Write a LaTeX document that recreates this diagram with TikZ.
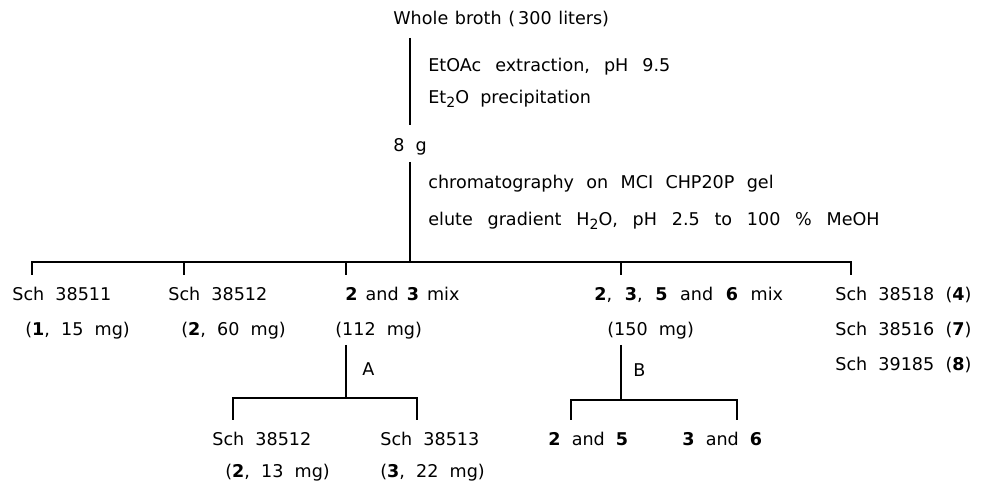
\documentclass[tikz,border=0pt]{standalone}
\usepackage{fontspec}
\setmainfont{DejaVu Sans}[WordSpace=2]
\usetikzlibrary{positioning,calc}

\newcommand{\subtwo}{\raisebox{-0.4ex}{\footnotesize 2}}

\begin{document}
\begin{tikzpicture}[
    x=0.02cm, y=-0.02cm,
    txt/.style={anchor=base west, inner sep=0pt, font=\fontsize{10}{12}\selectfont},
    gap/.style={execute at begin node={\spaceskip=#1\relax}},
    branch/.style={line width=0.9pt}
]
\useasboundingbox (0,0) rectangle (988,482);

% ===== EXTRACTION =====
\node[txt, gap=3.8pt] (broth) at (393,25) {Whole broth (\,300 liters)};
\node[txt, gap=8pt] (extract) at (428,72) {EtOAc extraction, pH 9.5};
\node[txt] (precip) at (428,104) {Et\subtwo O precipitation};
\node[txt] (crude) at (393,152) {8 g};

% ===== CHROMATOGRAPHY =====
\node[txt, gap=7pt] (chrom) at (428,189) {chromatography on MCI CHP20P gel};
\node[txt, gap=8.4pt] (elute) at (428,226) {elute gradient H\subtwo O, pH 2.5 to 100 \% MeOH};

% ===== FRACTIONS =====
\node[txt] (frac1) at (12,301) {Sch 38511};
\node[txt] (frac1_amt) at (25,336) {(\textbf{1}, 15 mg)};
\node[txt] (frac2) at (168,301) {Sch 38512};
\node[txt] (frac2_amt) at (181,336) {(\textbf{2}, 60 mg)};
\node[txt, gap=4.6pt] (frac3) at (345,301) {\textbf{2} and \textbf{3} mix};
\node[txt] (frac3_amt) at (335,336) {(112 mg)};
\node[txt, gap=7.2pt] (frac4) at (594,301) {\textbf{2}, \textbf{3}, \textbf{5} and \textbf{6} mix};
\node[txt] (frac4_amt) at (607,336) {(150 mg)};
\node[txt] (frac5) at (835,301) {Sch 38518 (\textbf{4})};
\node[txt] (frac6) at (835,336) {Sch 38516 (\textbf{7})};
\node[txt] (frac7) at (835,371) {Sch 39185 (\textbf{8})};

% ===== SEPARATIONS A AND B =====
\node[txt] (sep_a) at (362,376) {A};
\node[txt] (sep_b) at (633,377) {B};
\node[txt] (prod_a1) at (212,446) {Sch 38512};
\node[txt] (prod_a1_amt) at (225,478) {(\textbf{2}, 13 mg)};
\node[txt] (prod_a2) at (380,446) {Sch 38513};
\node[txt] (prod_a2_amt) at (380,478) {(\textbf{3}, 22 mg)};
\node[txt] (prod_b1) at (548,446) {\textbf{2} and \textbf{5}};
\node[txt] (prod_b2) at (682,446) {\textbf{3} and \textbf{6}};

% ===== TREE LINES =====
\coordinate (trunk1_top) at (410,38);
\coordinate (trunk1_bot) at (410,125);
\coordinate (trunk2_top) at (410,162);
\coordinate (split) at (410,262);
\coordinate (tick1) at (32,262);
\coordinate (tick2) at (184,262);
\coordinate (tick3) at (346,262);
\coordinate (tick4) at (621,262);
\coordinate (tick5) at (851,262);

\coordinate (a_top) at (346,345);
\coordinate (a_split) at (346,398);
\coordinate (a_left) at (233,398);
\coordinate (a_right) at (417,398);
\coordinate (b_top) at (621,345);
\coordinate (b_split) at (621,400);
\coordinate (b_left) at (571,400);
\coordinate (b_right) at (737,400);

\draw[branch] (trunk1_top) -- (trunk1_bot);
\draw[branch] (trunk2_top) -- (split);
\draw[branch] (tick1) ++(0,13) -- (tick1) -- (tick5) -- ++(0,13);
\foreach \t in {tick2,tick3,tick4}
    \draw[branch] (\t) -- ++(0,13);

\draw[branch] (a_top) -- (a_split);
\draw[branch] (a_left) ++(0,22) -- (a_left) -- (a_right) -- ++(0,22);
\draw[branch] (b_top) -- (b_split);
\draw[branch] (b_left) ++(0,20) -- (b_left) -- (b_right) -- ++(0,20);

\end{tikzpicture}
\end{document}
